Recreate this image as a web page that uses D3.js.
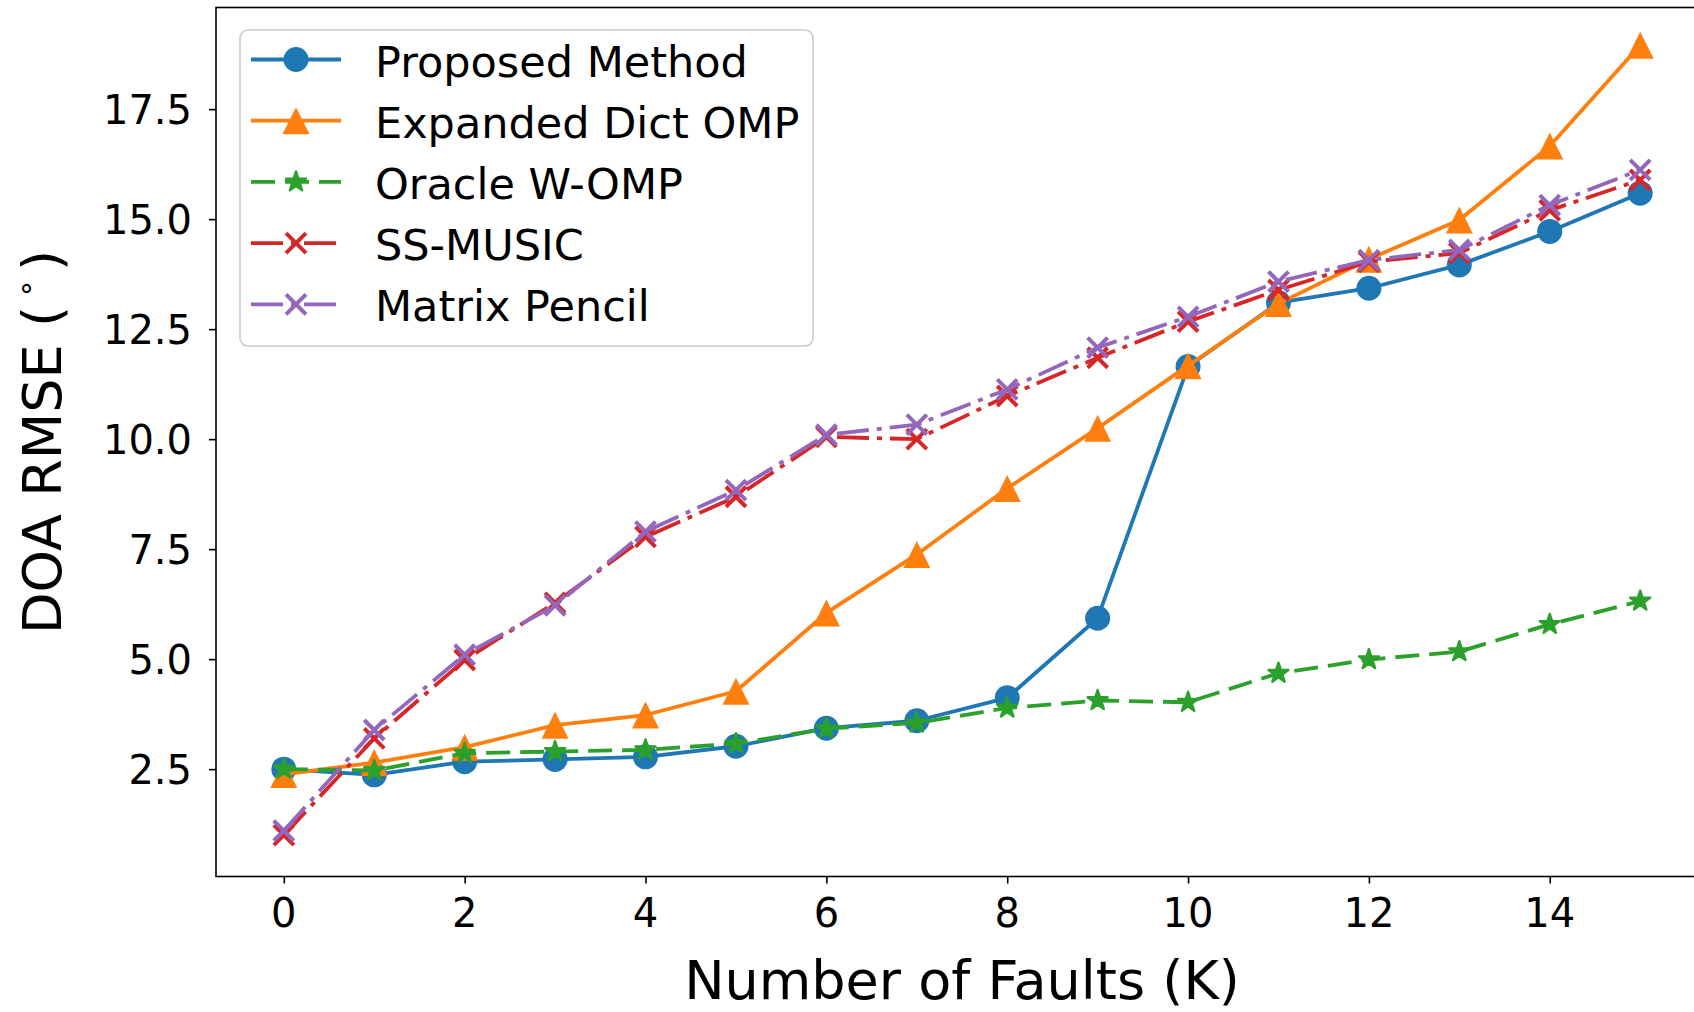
<!DOCTYPE html>
<html>
<head>
<meta charset="utf-8">
<script src="https://cdn.jsdelivr.net/npm/d3@7"></script>
<style>
  body { margin: 0; background: #fff; }
  svg { display: block; font-family: "DejaVu Sans", sans-serif; }
</style>
</head>
<body>
<div id="chart"></div>
<script>
// values
let faults = [0, 1, 2, 3, 4, 5, 6, 7, 8, 9, 10, 11, 12, 13, 14, 15];
let proposed = [2.50, 2.37, 2.67, 2.72, 2.78, 3.02, 3.43, 3.60, 4.12, 5.93, 11.65, 13.10, 13.43, 13.96, 14.72, 15.59];
let expandedOmp = [2.38, 2.65, 3.00, 3.50, 3.73, 4.27, 6.05, 7.38, 8.88, 10.25, 11.67, 13.08, 14.09, 14.98, 16.66, 18.95];
let oracleWomp = [2.50, 2.47, 2.86, 2.90, 2.94, 3.08, 3.42, 3.55, 3.89, 4.06, 4.02, 4.68, 4.99, 5.17, 5.79, 6.32];
let ssMusic = [1.00, 3.20, 4.98, 6.28, 7.78, 8.69, 10.05, 10.00, 10.98, 11.85, 12.67, 13.39, 14.03, 14.23, 15.20, 15.89];
let matrixPencil = [1.10, 3.39, 5.10, 6.22, 7.90, 8.84, 10.10, 10.33, 11.13, 12.08, 12.78, 13.58, 14.07, 14.30, 15.32, 16.12];

let seriesNames = ["Proposed Method", "Expanded Dict OMP", "Oracle W-OMP", "SS-MUSIC", "Matrix Pencil"];
let xTicks = [0, 2, 4, 6, 8, 10, 12, 14];
let yTicks = [2.5, 5, 7.5, 10, 12.5, 15, 17.5];
let yTickLabels = ["2.5", "5.0", "7.5", "10.0", "12.5", "15.0", "17.5"];

let series = [
    {name: seriesNames[0], vals: proposed, color: "#1f77b4", marker: "circle", dash: null},
    {name: seriesNames[1], vals: expandedOmp, color: "#ff7f0e", marker: "triangle", dash: null},
    {name: seriesNames[2], vals: oracleWomp, color: "#2ca02c", marker: "star", dash: "24,10"},
    {name: seriesNames[3], vals: ssMusic, color: "#d62728", marker: "x", dash: "32,8,5,8"},
    {name: seriesNames[4], vals: matrixPencil, color: "#9467bd", marker: "x", dash: "32,8,5,8"}
];

let plot = {left: 216, right: 1708, top: 7.5, bottom: 876.5};

let svg = d3.select("#chart")
            .append("svg")
                .attr("width", 1694)
                .attr("height", 1012);

let x = d3.scaleLinear()
            .domain([-0.75, 15.75])
            .range([plot.left, plot.right]);

let y = d3.scaleLinear()
            .domain([0.06, 19.81])
            .range([plot.bottom, plot.top]);

svg.append("clipPath")
    .attr("id", "plotclip")
    .append("rect")
        .attr("x", plot.left)
        .attr("y", plot.top)
        .attr("width", plot.right - plot.left)
        .attr("height", plot.bottom - plot.top);

// ticks
let xAxis = svg.append("g")
    .attr("transform", "translate(0," + plot.bottom + ")")
    .call(d3.axisBottom(x).tickValues(xTicks).tickSize(7).tickFormat(""));
let yAxis = svg.append("g")
    .attr("transform", "translate(" + plot.left + ",0)")
    .call(d3.axisLeft(y).tickValues(yTicks).tickSize(7).tickFormat(""));
[xAxis, yAxis].forEach(a => {
    a.select(".domain").remove();
    a.selectAll(".tick line").attr("stroke", "#000").attr("stroke-width", 1.6);
});

svg.selectAll("text.xtick")
    .data(xTicks)
    .join("text")
        .attr("class", "xtick")
        .attr("x", d => x(d))
        .attr("y", 926.5)
        .attr("text-anchor", "middle")
        .style("font-size", "40px")
        .attr("fill", "#000")
        .text(d => d);

svg.selectAll("text.ytick")
    .data(yTicks)
    .join("text")
        .attr("class", "ytick")
        .attr("x", 192)
        .attr("y", d => y(d) + 15)
        .attr("text-anchor", "end")
        .style("font-size", "40px")
        .attr("fill", "#000")
        .text((d, i) => yTickLabels[i]);

// axis titles
svg.append("text")
    .attr("x", (plot.left + plot.right) / 2)
    .attr("y", 999)
    .attr("text-anchor", "middle")
    .style("font-size", "54px")
    .text("Number of Faults (K)");

let ylab = svg.append("text")
    .attr("transform", "translate(61,442)rotate(-90)")
    .attr("text-anchor", "middle")
    .style("font-size", "54px");
ylab.append("tspan").text("DOA RMSE (");
ylab.append("tspan").attr("dx", 10).attr("dy", -17).style("font-size", "30px").text("°");
ylab.append("tspan").attr("dx", 10).attr("dy", 17).text(")");

// markers
function starPath(R) {
    let r = R * 0.381966, pts = [];
    for (let i = 0; i < 10; i++) {
        let a = -Math.PI / 2 + i * Math.PI / 5;
        let rr = i % 2 == 0 ? R : r;
        pts.push([rr * Math.cos(a), rr * Math.sin(a)]);
    }
    return "M" + pts.map(p => p[0].toFixed(2) + "," + p[1].toFixed(2)).join("L") + "Z";
}

function drawMarker(g, type, color) {
    if (type == "circle") {
        g.append("circle").attr("r", 12.5).attr("fill", color);
    } else if (type == "triangle") {
        g.append("path").attr("d", "M0,-13.5L13.5,13.5L-13.5,13.5Z").attr("fill", color);
    } else if (type == "star") {
        g.append("path").attr("d", starPath(10.5)).attr("fill", color)
            .attr("stroke", color).attr("stroke-width", 2.4).attr("stroke-linejoin", "round");
    } else {
        g.append("path").attr("d", "M-10,-10L10,10M-10,10L10,-10")
            .attr("stroke", color).attr("stroke-width", 4).attr("fill", "none");
    }
}

let line = d3.line()
    .x((d, i) => x(faults[i]))
    .y(d => y(d));

let plotArea = svg.append("g").attr("clip-path", "url(#plotclip)");

series.forEach(s => {
    plotArea.append("path")
        .datum(s.vals)
        .attr("d", line)
        .attr("fill", "none")
        .attr("stroke", s.color)
        .attr("stroke-width", 3.8)
        .attr("stroke-dasharray", s.dash)
        .attr("stroke-linejoin", "round");
    plotArea.selectAll(null)
        .data(s.vals)
        .join("g")
            .attr("transform", (d, i) => "translate(" + x(faults[i]) + "," + y(d) + ")")
            .each(function() { drawMarker(d3.select(this), s.marker, s.color); });
});

// spines
svg.append("rect")
    .attr("x", plot.left)
    .attr("y", plot.top)
    .attr("width", plot.right - plot.left)
    .attr("height", plot.bottom - plot.top)
    .attr("fill", "none")
    .attr("stroke", "#000")
    .attr("stroke-width", 1.6);

// legend
let legend = svg.append("g");
legend.append("rect")
    .attr("x", 240).attr("y", 30)
    .attr("width", 573).attr("height", 316)
    .attr("rx", 8)
    .attr("fill", "#fff").attr("fill-opacity", 0.8)
    .attr("stroke", "#cccccc").attr("stroke-width", 1.6);

series.forEach((s, i) => {
    let ly = 59.5 + i * 61.2;
    legend.append("line")
        .attr("x1", 251).attr("x2", 341)
        .attr("y1", ly).attr("y2", ly)
        .attr("stroke", s.color)
        .attr("stroke-width", 3.8)
        .attr("stroke-dasharray", s.dash);
    drawMarker(legend.append("g").attr("transform", "translate(296," + ly + ")"), s.marker, s.color);
    legend.append("text")
        .attr("x", 375)
        .attr("y", ly + 17)
        .style("font-size", "43px")
        .attr("fill", "#000")
        .text(s.name);
});
</script>
</body>
</html>
